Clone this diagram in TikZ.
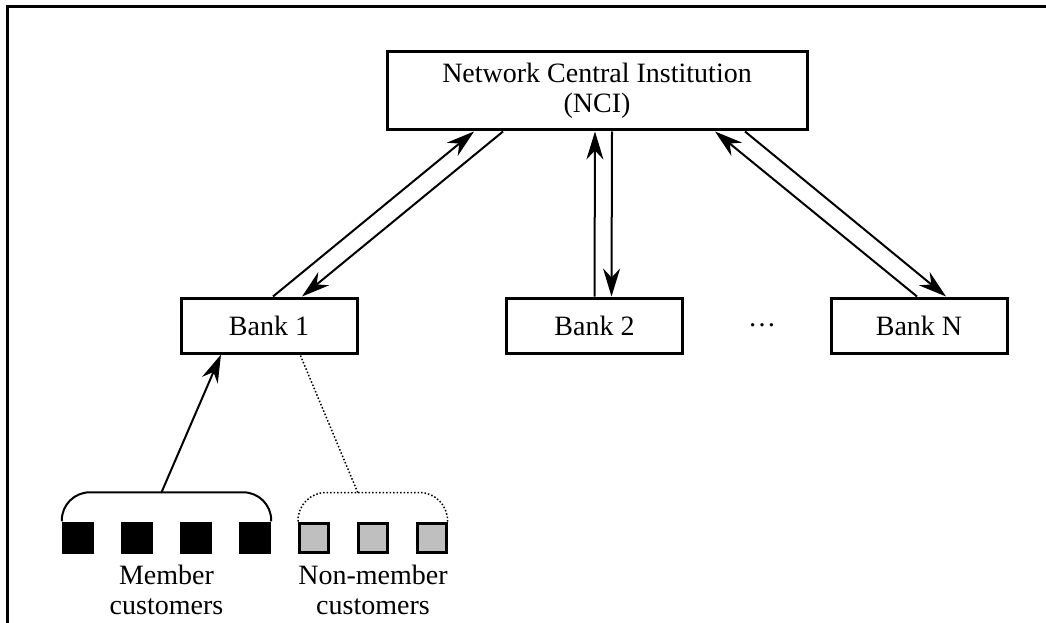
\documentclass[tikz,border=0pt]{standalone}
\usepackage{fontspec}
\setmainfont{Liberation Serif}
\usetikzlibrary{positioning,arrows.meta,calc}
\tikzset{%
  box/.style={draw,line width=3pt,inner sep=0pt,align=center,
    font=\fontsize{28}{30}\selectfont},
  bank/.style={box,minimum width=176pt,minimum height=55pt},
  flow/.style={line width=2pt,-{Stealth[length=28pt,width=17pt,inset=9pt]}},
  member/.style={fill=black,minimum size=32pt,inner sep=0pt},
  nonmember/.style={draw,line width=3pt,fill=black!25,minimum size=29pt,inner sep=0pt},
  caption/.style={align=center,font=\fontsize{28}{30}\selectfont}
}

\begin{document}
\begin{tikzpicture}[x=1pt,y=-1pt]
  \useasboundingbox (0,0) rectangle (1046,623);
  \draw[line width=3pt] (7,640) -- (7,7) -- (1060,7);

  \node[box,minimum width=420pt,minimum height=78pt] (nci) at (597,91)
    {Network Central Institution\\(NCI)};

  \node[bank] (b1) at (269,325.5) {Bank 1};
  \node[bank] (b2) at (594.5,325.5) {Bank 2};
  \node[bank] (bn) at (919,325.5) {Bank N};
  \node[caption] (dots) at (762,325) {\dots};

  % flows between the banks and the NCI
  \draw[flow] ([xshift=4pt]b1.north) -- ([xshift=-123pt]nci.south);
  \draw[flow] ([xshift=-94pt]nci.south) -- ([xshift=33pt]b1.north);
  \draw[flow] ([xshift=0pt]b2.north) -- ([xshift=-2pt]nci.south);
  \draw[flow] ([xshift=15pt]nci.south) -- ([xshift=17pt]b2.north);
  \draw[flow] ([xshift=-2pt]bn.north) -- ([xshift=118pt]nci.south);
  \draw[flow] ([xshift=148pt]nci.south) -- ([xshift=27pt]bn.north);

  % customers
  \foreach \i/\x in {1/78,2/137,3/196,4/255}
    \node[member] (m\i) at (\x,537.5) {};
  \foreach \i/\x in {1/314,2/373,3/431.5}
    \node[nonmember] (n\i) at (\x,537.5) {};

  \draw[line width=2pt,rounded corners=28pt]
    (m1.north west) -- ([yshift=29pt]m1.north west)
    -- ([yshift=29pt]m4.north east) coordinate[pos=.5] (mtop)
    -- (m4.north east);
  \draw[line width=1.5pt,dotted,rounded corners=28pt]
    (n1.north west) -- ([yshift=29pt]n1.north west)
    -- ([yshift=29pt]n3.north east) coordinate[pos=.5] (ntop)
    -- (n3.north east);

  \draw[flow] ([xshift=-5pt]mtop) -- ([xshift=-48pt]b1.south);
  \draw[line width=1.5pt,dotted] ([xshift=-15pt]ntop) -- ([xshift=31pt]b1.south);

  \node[caption,below=8pt of {$(m2.south)!.5!(m3.south)$}] (mlab) {Member\\customers};
  \node[caption,below=8pt of n2.south] (nlab) {Non-member\\customers};
\end{tikzpicture}
\end{document}
